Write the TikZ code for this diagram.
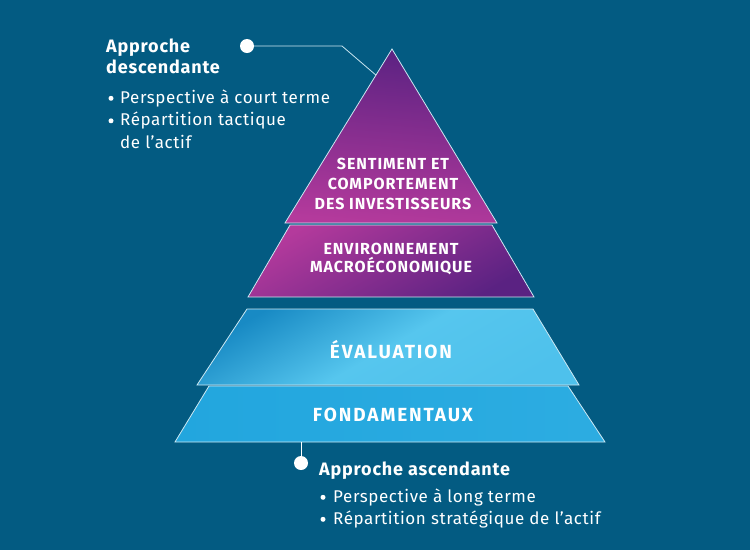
\documentclass[tikz,border=0pt]{standalone}
\usepackage{fontspec}
\setmainfont{Fira Sans}
\newfontfamily\textefont[LetterSpace=3.5]{Fira Sans}
\newfontfamily\titrefont[LetterSpace=4.5]{Fira Sans}
\newfontfamily\etagefont[LetterSpace=6]{Fira Sans}
\newfontfamily\socfont[LetterSpace=10]{Fira Sans}
\usetikzlibrary{calc}
\definecolor{fondbleu}{RGB}{3,91,130}
\definecolor{violetfonce}{RGB}{90,34,130}
\definecolor{magenta}{RGB}{180,58,156}
\definecolor{bleuclair}{RGB}{86,198,238}
\definecolor{bleufonce}{RGB}{24,138,196}
\definecolor{bleumoyen}{RGB}{34,166,222}
\definecolor{filet}{RGB}{205,232,242}

\begin{document}
\begin{tikzpicture}[x=1pt,y=-1pt,
  bord/.style={draw=filet,line width=0.8pt},
  etage/.style={font=\etagefont\bfseries\fontsize{16}{20}\selectfont,text=white,align=center,inner sep=0pt},
  socle/.style={font=\socfont\bfseries\fontsize{19}{20}\selectfont,text=white,anchor=base,inner sep=0pt},
  titre/.style={font=\titrefont\bfseries\fontsize{18}{21}\selectfont,text=white,anchor=base west,inner sep=0pt},
  ligne/.style={font=\textefont\fontsize{17}{21}\selectfont,text=white,anchor=base west,inner sep=0pt},
  puce/.style={circle,fill=white,minimum size=5pt,inner sep=0pt},
  pastille/.style={circle,fill=white,minimum size=14pt,inner sep=0pt}]
 \fill[fondbleu] (0,0) rectangle (750,550);
 \useasboundingbox (0,0) rectangle (750,550);
 % coins de la pyramide
 \coordinate (apex) at (392,49);
 \coordinate (hautG) at (285,223);
 \coordinate (hautD) at (497,223);
 \coordinate (macroG) at (290,225);
 \coordinate (macroD) at (492,225);
 \coordinate (macroBG) at (248,297);
 \coordinate (macroBD) at (534,297);
 % etages du haut
 \shade[bord,top color=violetfonce,bottom color=magenta,shading angle=-5] (apex)--(hautD)--(hautG)--cycle;
 \shade[bord,top color=magenta,bottom color=violetfonce,shading angle=30] (macroG)--(macroD)--(macroBD)--(macroBG)--cycle;
 % etages du bas
 \shade[bord,left color=bleumoyen,right color=bleumoyen!80!bleuclair] (209,386)--(568,386)--(605,442)--(175,442)--cycle;
 \shade[bord,left color=bleufonce,right color=bleuclair!85!bleumoyen,middle color=bleuclair,shading angle=30] (247,309)--(533,309)--(579,385)--(197,385)--cycle;
 \node[etage] (sentiment) at (393,183.5) {SENTIMENT ET\\COMPORTEMENT\\DES INVESTISSEURS};
 \node[etage,font=\etagefont\bfseries\fontsize{16}{18}\selectfont] (macro) at (391,258.5) {ENVIRONNEMENT\\MACROÉCONOMIQUE};
 \node[socle] (evaluation) at (391,358) {ÉVALUATION};
 \node[socle] (fondamentaux) at (393,421) {FONDAMENTAUX};
 % approche descendante
 \node[titre] (desc1) at (106,52) {Approche};
 \node[titre] (desc2) at (106,73) {descendante};
 \foreach \n/\y/\txt in {1/103/Perspective à court terme,2/125.5/Répartition tactique}{%
   \node[puce] (pdesc\n) at (111,\y-4.7) {};
   \node[ligne] (tdesc\n) at (120,\y) {\txt};
 }
 \node[ligne] (tdesc3) at (120,148) {de l’actif};
 \node[pastille] (dhaut) at (247,46) {};
 \coordinate (coude) at (342,46);
 \coordinate (flanc) at ($(apex)!0.15!(hautG)$);
 \draw[filet,line width=0.8pt] (dhaut)--(coude)--(flanc);
 % approche ascendante
 \node[titre] (asc) at (319,475) {Approche ascendante};
 \foreach \n/\y/\txt in {1/502/Perspective à long terme,2/524/Répartition stratégique de l’actif}{%
   \node[puce] (pasc\n) at (323,\y-4.7) {};
   \node[ligne] (tasc\n) at (333,\y) {\txt};
 }
 \coordinate (base) at (301,442);
 \node[pastille] (dbas) at (301,463) {};
 \draw[white,line width=0.8pt] (base)--(dbas);
\end{tikzpicture}
\end{document}
